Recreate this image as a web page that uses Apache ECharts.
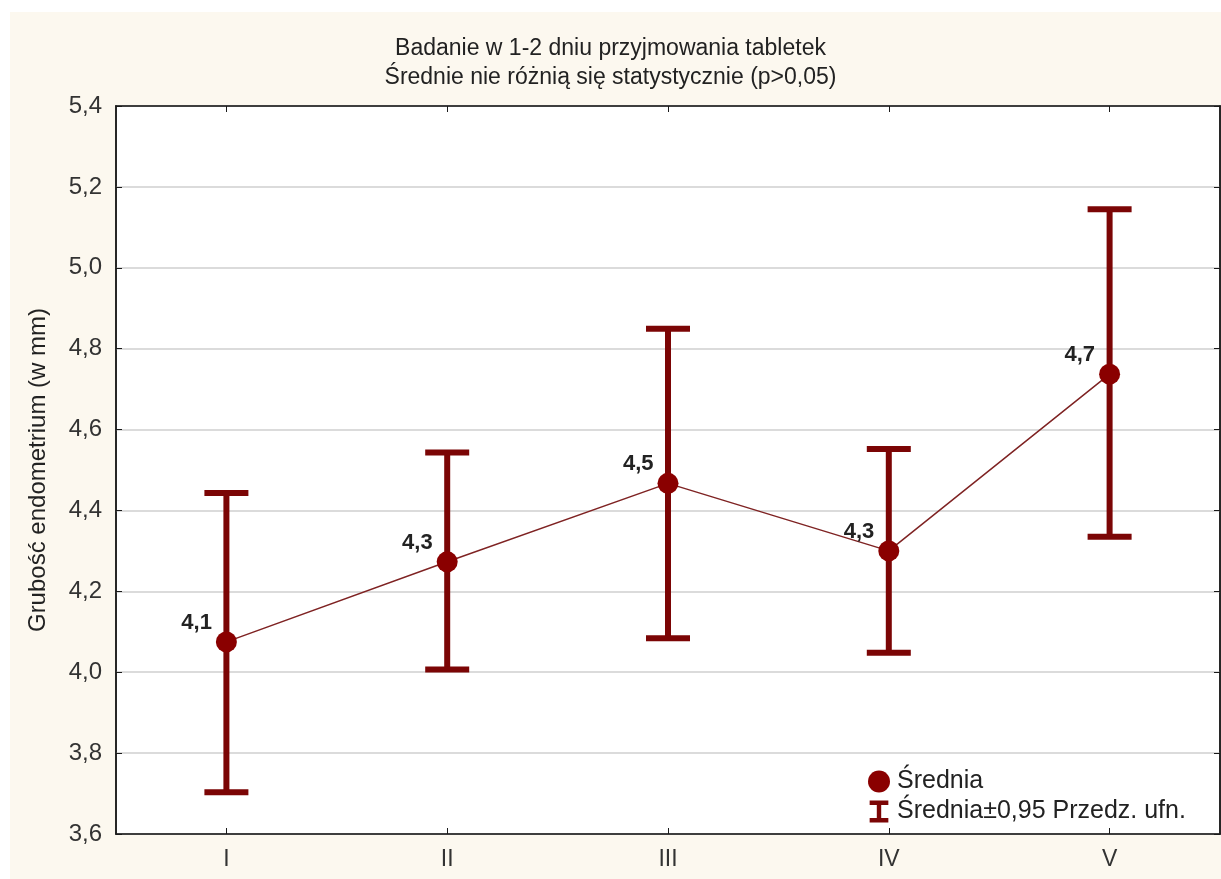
<!DOCTYPE html>
<html>
<head>
<meta charset="utf-8">
<script src="https://cdn.jsdelivr.net/npm/echarts@6/dist/echarts.min.js"></script>
<style>
  html, body { margin: 0; padding: 0; background: #ffffff; }
  #paper { position: absolute; left: 10px; top: 12px; width: 1211px; height: 867px; background: #fcf8ef; }
  #chart { position: absolute; left: 0; top: 0; width: 1221px; height: 879px; }
</style>
</head>
<body>
<div id="paper"></div>
<div id="chart"></div>
<script>
// Endometrial thickness by group: mean with 95% confidence interval
const categories = ['I', 'II', 'III', 'IV', 'V'];
const means  = [4.075, 4.273, 4.467, 4.300, 4.737];
const ciLow  = [3.703, 4.007, 4.084, 4.048, 4.335];
const ciHigh = [4.443, 4.543, 4.849, 4.552, 5.145];
const yTicks = { min: 3.6, max: 5.4, step: 0.2 };

const titleText = 'Badanie w 1-2 dniu przyjmowania tabletek\nŚrednie nie różnią się statystycznie (p>0,05)';
const yName = 'Grubość endometrium (w mm)';
const meanName = 'Średnia';
const ciName = 'Średnia±0,95 Przedz. ufn.';

const FONT = 'Liberation Sans, Arial, sans-serif';
const BAR = '#7b0505';
const DOT = '#8a0000';
const fmt = v => v.toFixed(1).replace('.', ',');

const errData = categories.map((c, i) => [i, ciLow[i], ciHigh[i]]);

const chart = echarts.init(document.getElementById('chart'), null, { renderer: 'canvas' });

const yAxisCommon = {
  type: 'value',
  min: yTicks.min,
  max: yTicks.max,
  interval: yTicks.step,
  axisLine: { show: true, lineStyle: { color: '#1a1a1a', width: 1.5 } },
  axisTick: { show: true, inside: true, length: 6, lineStyle: { color: '#1a1a1a', width: 1 } }
};
const xAxisCommon = {
  type: 'category',
  data: categories,
  boundaryGap: true,
  axisLine: { show: true, lineStyle: { color: '#1a1a1a', width: 1.5 } },
  axisTick: { show: true, inside: true, length: 6, alignWithLabel: true, lineStyle: { color: '#1a1a1a', width: 1 } },
  splitLine: { show: false }
};

chart.setOption({
  animation: false,
  backgroundColor: 'transparent',
  textStyle: { fontFamily: FONT },
  title: {
    text: titleText,
    left: 'center',
    top: 29,
    textStyle: { fontFamily: FONT, fontSize: 23, fontWeight: 'normal', color: '#222', lineHeight: 29 }
  },
  grid: {
    left: 116, right: 1, top: 106, bottom: 45,
    show: true, backgroundColor: '#ffffff', borderColor: '#1a1a1a', borderWidth: 1.5
  },
  legend: {
    orient: 'vertical',
    left: 863,
    top: 764,
    itemWidth: 22,
    itemHeight: 22,
    itemGap: 5,
    textStyle: { fontFamily: FONT, fontSize: 25, color: '#222', padding: [0, 0, 0, 2] },
    data: [
      { name: meanName, icon: 'circle', itemStyle: { color: DOT } },
      { name: ciName, icon: 'path://M0,0H17V4H10.5V16H17V20H0V16H6.5V4H0Z', itemStyle: { color: BAR } }
    ]
  },
  xAxis: [
    Object.assign({}, xAxisCommon, {
      position: 'bottom',
      axisLabel: { show: true, margin: 14, fontFamily: FONT, fontSize: 23, color: '#333' }
    }),
    Object.assign({}, xAxisCommon, { position: 'top', axisLabel: { show: false } })
  ],
  yAxis: [
    Object.assign({}, yAxisCommon, {
      position: 'left',
      name: yName,
      nameLocation: 'middle',
      nameGap: 66,
      nameTextStyle: { fontFamily: FONT, fontSize: 24, color: '#222' },
      axisLabel: { show: true, margin: 14, fontFamily: FONT, fontSize: 24, color: '#333', formatter: fmt },
      splitLine: { show: true, lineStyle: { color: '#cfcfcf', width: 1.5 } }
    }),
    Object.assign({}, yAxisCommon, { position: 'right', axisLabel: { show: false }, splitLine: { show: false } })
  ],
  series: [
    {
      name: ciName,
      type: 'custom',
      xAxisIndex: 0,
      yAxisIndex: 0,
      z: 2,
      itemStyle: { color: BAR },
      data: errData,
      renderItem: function (params, api) {
        const x = api.value(0);
        const lo = api.coord([x, api.value(1)]);
        const hi = api.coord([x, api.value(2)]);
        const half = 22;
        const style = { stroke: BAR, lineWidth: 6, lineCap: 'butt' };
        return {
          type: 'group',
          children: [
            { type: 'line', shape: { x1: hi[0], y1: hi[1], x2: lo[0], y2: lo[1] }, style: style },
            { type: 'line', shape: { x1: hi[0] - half, y1: hi[1], x2: hi[0] + half, y2: hi[1] }, style: style },
            { type: 'line', shape: { x1: lo[0] - half, y1: lo[1], x2: lo[0] + half, y2: lo[1] }, style: style }
          ]
        };
      }
    },
    {
      name: meanName,
      type: 'line',
      xAxisIndex: 0,
      yAxisIndex: 0,
      z: 3,
      data: means,
      symbol: 'circle',
      symbolSize: 21,
      showAllSymbol: true,
      lineStyle: { color: '#7f2323', width: 1.5 },
      itemStyle: { color: DOT },
      label: {
        show: true,
        position: 'left',
        distance: 4,
        offset: [0, -19],
        fontFamily: FONT,
        fontSize: 22,
        fontWeight: 'bold',
        color: '#222',
        formatter: p => fmt(p.value)
      }
    }
  ]
});
</script>
</body>
</html>
